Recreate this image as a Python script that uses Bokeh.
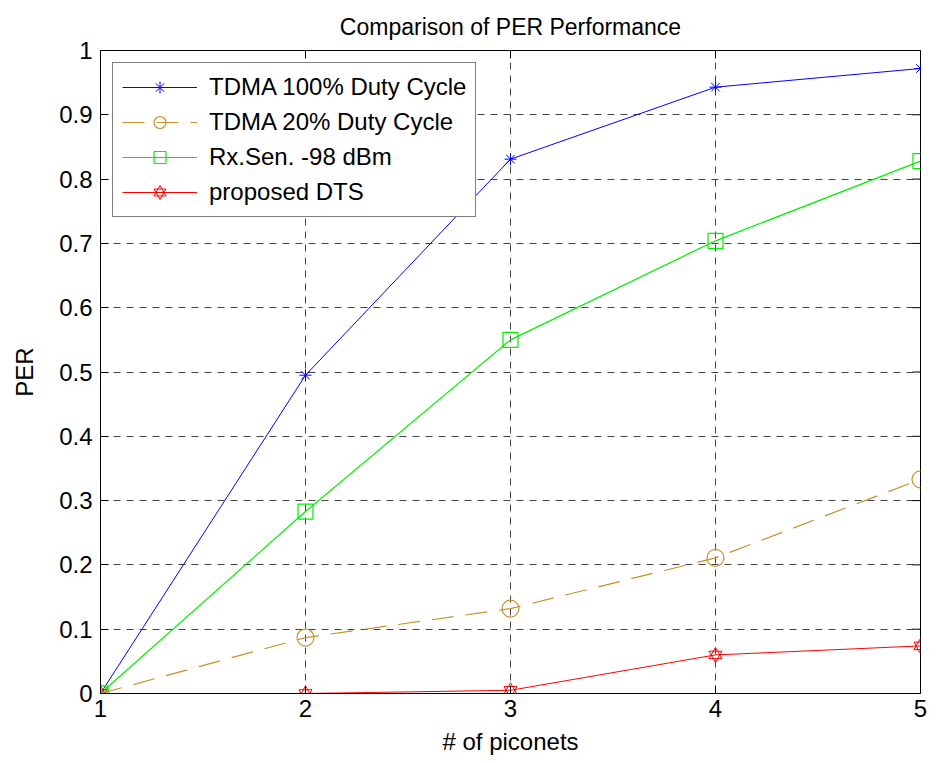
import math
from bokeh.plotting import figure
from bokeh.models import Range1d, FixedTicker, Legend, LegendItem
from bokeh.embed import file_html
from bokeh.resources import INLINE

piconets = [1, 2, 3, 4, 5]
tdma100 = [0.0, 0.495, 0.831, 0.943, 0.972]
tdma20 = [0.0, 0.087, 0.132, 0.211, 0.333]
rxsen = [0.0, 0.283, 0.550, 0.704, 0.828]
dts = [0.0, 0.0, 0.005, 0.060, 0.074]

x_ticks = [1, 2, 3, 4, 5]
y_ticks = [0, 0.1, 0.2, 0.3, 0.4, 0.5, 0.6, 0.7, 0.8, 0.9, 1]
y_labels = {0: "0", 0.1: "0.1", 0.2: "0.2", 0.3: "0.3", 0.4: "0.4", 0.5: "0.5",
            0.6: "0.6", 0.7: "0.7", 0.8: "0.8", 0.9: "0.9", 1: "1"}

FONT = "Liberation Sans"
FS = "24px"

p = figure(width=934, height=761, output_backend="svg", toolbar_location=None,
           x_range=Range1d(1, 5), y_range=Range1d(0, 1),
           title="Comparison of PER Performance",
           min_border_left=100, min_border_right=14, min_border_top=50, min_border_bottom=68)

p.title.align = "center"
p.title.text_font = FONT
p.title.text_font_size = "23px"
p.title.text_font_style = "normal"
p.title.text_color = "black"
p.title.standoff = 21

p.outline_line_color = "black"
p.outline_line_width = 1
p.background_fill_color = "white"
p.border_fill_color = "white"

for ax in (p.xaxis[0], p.yaxis[0]):
    ax.major_tick_in = 8
    ax.major_tick_out = 0
    ax.minor_tick_line_color = None
    ax.axis_line_color = "black"
    ax.major_tick_line_color = "black"
    ax.major_label_text_font = FONT
    ax.major_label_text_font_size = FS
    ax.major_label_text_color = "black"
    ax.axis_label_text_font = FONT
    ax.axis_label_text_font_size = FS
    ax.axis_label_text_font_style = "normal"
    ax.axis_label_text_color = "black"

p.xaxis[0].ticker = FixedTicker(ticks=x_ticks)
p.yaxis[0].ticker = FixedTicker(ticks=y_ticks)
p.yaxis[0].major_label_overrides = y_labels
p.xaxis[0].axis_label = "# of piconets"
p.yaxis[0].axis_label = "PER"
p.xaxis[0].axis_label_standoff = 8
p.yaxis[0].axis_label_standoff = 18
p.xaxis[0].major_label_standoff = 6
p.yaxis[0].major_label_standoff = 8

p.xgrid.ticker = FixedTicker(ticks=x_ticks)
p.ygrid.ticker = FixedTicker(ticks=y_ticks)
for g in (p.xgrid[0], p.ygrid[0]):
    g.grid_line_color = "#444444"
    g.grid_line_dash = "7 6"
    g.grid_line_width = 1

# mirrored ticks on top and right edges (box on); half of each dash is clipped by the frame
p.scatter(x_ticks, [y_ticks[-1]] * len(x_ticks), marker="dash", size=16, angle=math.pi / 2,
          line_color="black", line_width=1)
p.scatter([x_ticks[-1]] * len(y_ticks), y_ticks, marker="dash", size=16,
          line_color="black", line_width=1)

BROWN = "#c8902a"
GREEN = "#00ee00"

l1 = p.line(piconets, tdma100, line_color="blue", line_width=1)
m1 = p.scatter(piconets, tdma100, marker="asterisk", size=12, line_color="blue", line_width=1)

l2 = p.line(piconets, tdma20, line_color=BROWN, line_width=1.2, line_dash="22 12")
m2 = p.scatter(piconets, tdma20, marker="circle", size=17, line_color=BROWN, fill_color=None, line_width=1.2)

l3 = p.line(piconets, rxsen, line_color=GREEN, line_width=1.2)
m3 = p.scatter(piconets, rxsen, marker="square", size=15, line_color=GREEN, fill_color=None, line_width=1.2)

l4 = p.line(piconets, dts, line_color="red", line_width=1)
m4a = p.scatter(piconets, dts, marker="triangle", size=13, line_color="red", fill_color=None, line_width=1)
m4b = p.scatter(piconets, dts, marker="inverted_triangle", size=13, line_color="red", fill_color=None, line_width=1)

legend = Legend(items=[
    LegendItem(label="TDMA 100% Duty Cycle", renderers=[l1, m1]),
    LegendItem(label="TDMA 20% Duty Cycle", renderers=[l2, m2]),
    LegendItem(label="Rx.Sen. -98 dBm", renderers=[l3, m3]),
    LegendItem(label="proposed DTS", renderers=[l4, m4a, m4b]),
], location="top_left")
legend.label_text_font = FONT
legend.label_text_font_size = FS
legend.label_text_color = "black"
legend.border_line_color = "black"
legend.border_line_width = 1
legend.background_fill_color = "white"
legend.background_fill_alpha = 1
legend.glyph_width = 75
legend.glyph_height = 30
legend.label_height = 30
legend.spacing = 5
legend.padding = 9
legend.margin = 12
legend.label_standoff = 12
p.add_layout(legend)

open("out.html", "w").write(file_html(p, INLINE))
